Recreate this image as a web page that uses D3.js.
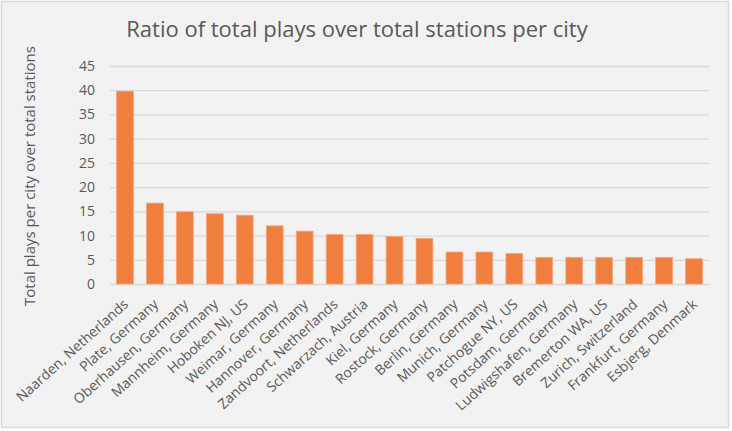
<!DOCTYPE html>
<html>
<head>
<meta charset="utf-8">
<script src="https://cdn.jsdelivr.net/npm/d3@7/dist/d3.min.js"></script>
<style>
	body { margin: 0; background: #ffffff; }
	text { font-family: "Open Sans", "Noto Sans", sans-serif; fill: #595959; }
</style>
</head>
<body>
<div id="chart"></div>
<script>
	var cities = [
		"Naarden, Netherlands", "Plate, Germany", "Oberhausen, Germany", "Mannheim, Germany",
		"Hoboken NJ, US", "Weimar, Germany", "Hannover, Germany", "Zandvoort, Netherlands",
		"Schwarzach, Austria", "Kiel, Germany", "Rostock, Germany", "Berlin, Germany",
		"Munich, Germany", "Patchogue NY, US", "Potsdam, Germany", "Ludwigshafen, Germany",
		"Bremerton WA, US", "Zurich, Switzerland", "Frankfurt, Germany", "Esbjerg, Denmark"
	];
	var ratios = [39.8, 16.7, 14.9, 14.5, 14.2, 12.0, 10.9, 10.2, 10.2, 9.8,
		9.4, 6.6, 6.6, 6.3, 5.5, 5.5, 5.5, 5.5, 5.5, 5.2];
	var yTicks = [0, 5, 10, 15, 20, 25, 30, 35, 40, 45];

	var chartTitle = "Ratio of total plays over total stations per city";
	var yTitle = "Total plays per city over total stations";

	var width = 732, height = 431;
	var margin = {top: 66, right: 23, bottom: 147, left: 110};

	var svg = d3.select("#chart")
		.append("svg")
		.attr("width", width)
		.attr("height", height);

	// chart area frame
	svg.append("rect")
		.attr("x", 1.5).attr("y", 1.5)
		.attr("width", 727).attr("height", 426)
		.attr("fill", "#f2f2f2")
		.attr("stroke", "#d9d9d9")
		.attr("stroke-width", 1.5);

	var x = d3.scaleBand()
		.domain(cities)
		.range([margin.left, width - margin.right])
		.paddingInner(0.44)
		.paddingOuter(0.22);

	var y = d3.scaleLinear()
		.domain([0, 45])
		.range([height - margin.bottom, margin.top]);

	// gridlines + tick labels
	var yAxis = svg.append("g")
		.attr("transform", "translate(" + margin.left + ",0)")
		.call(d3.axisLeft(y).tickValues(yTicks)
			.tickSize(-(width - margin.left - margin.right))
			.tickPadding(15));
	yAxis.select(".domain").remove();
	yAxis.selectAll(".tick line")
		.attr("stroke", "#d9d9d9")
		.attr("stroke-width", 1.3);
	yAxis.selectAll(".tick text")
		.style("font-size", "14px")
		.attr("fill", "#595959");

	svg.append("g")
		.selectAll("rect")
		.data(ratios)
		.enter()
		.append("rect")
		.attr("x", function(d, i) { return x(cities[i]); })
		.attr("y", function(d) { return y(d); })
		.attr("width", x.bandwidth())
		.attr("height", function(d) { return y(0) - y(d); })
		.attr("fill", "#f07e3f")
		.attr("stroke", "#f6a57a")
		.attr("stroke-width", 0.8);

	// category labels
	var xAxis = svg.append("g")
		.attr("transform", "translate(0," + y(0) + ")")
		.call(d3.axisBottom(x).tickSize(0).tickPadding(0));
	xAxis.select(".domain").remove();
	xAxis.selectAll(".tick text")
		.style("font-size", "14px")
		.attr("fill", "#595959")
		.attr("text-anchor", "end")
		.attr("dy", "0.35em")
		.attr("transform", "translate(1,18) rotate(-42)");

	svg.append("text")
		.attr("x", 357)
		.attr("y", 37)
		.attr("text-anchor", "middle")
		.style("font-size", "22px")
		.text(chartTitle);

	svg.append("text")
		.attr("transform", "translate(35,176) rotate(-90)")
		.attr("text-anchor", "middle")
		.style("font-size", "15px")
		.text(yTitle);
</script>
</body>
</html>
